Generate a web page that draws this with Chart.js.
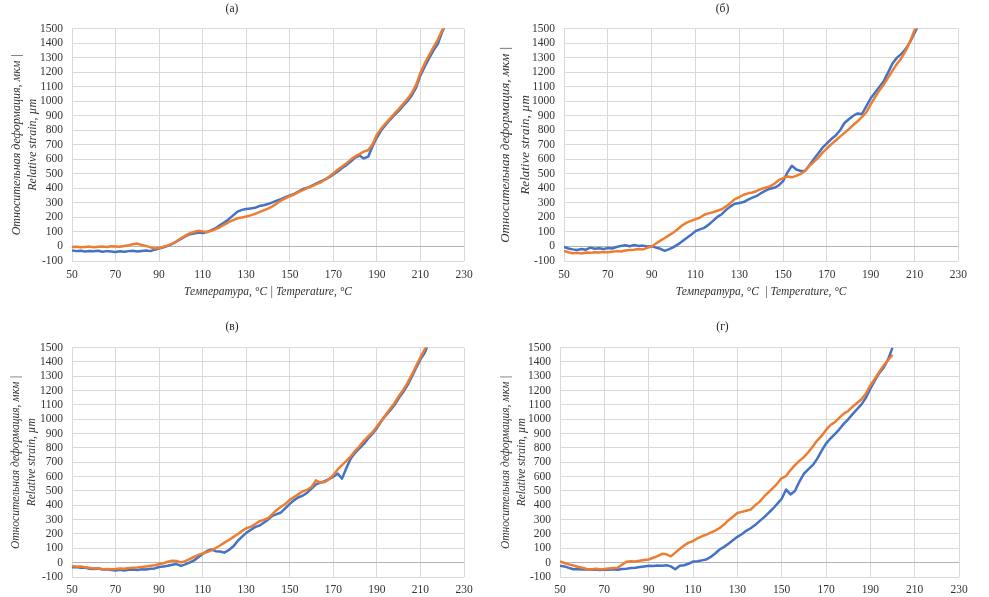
<!DOCTYPE html>
<html>
<head>
<meta charset="utf-8">
<script src="https://cdn.jsdelivr.net/npm/chart.js@4.4.1/dist/chart.umd.min.js"></script>
<style>
body{margin:0;background:#fff;}
.panel{position:absolute;}
</style>
</head>
<body>
<div class="panel" style="left:0;top:0"><canvas id="chA" width="486" height="300"></canvas></div>
<div class="panel" style="left:486px;top:0"><canvas id="chB" width="488" height="300"></canvas></div>
<div class="panel" style="left:0;top:300px"><canvas id="chC" width="486" height="297"></canvas></div>
<div class="panel" style="left:486px;top:300px"><canvas id="chD" width="488" height="297"></canvas></div>
<script>
"use strict";
// temperature, °C  /  relative strain, µm
var tempA = [50,52,54,56,58,60,62,64,66,68,70,72,74,76,78,80,82,84,86,88,90,92,94,96,98,100,102,104,106,108,110,112,114,116,118,120,122,124,126,128,130,132,134,136,138,140,142,144,146,148,150,152,154,156,158,160,162,164,166,168,170,172,174,176,178,180,182,184,186,188,190,192,194,196,198,200,202,204,206,208,210,212,214,216,218,220,222];
var blueA = [-28,-32,-30,-35,-31,-33,-30,-36,-32,-34,
    -38,-33,-36,-32,-30,-34,-31,-28,-32,-22,
    -14,-6,4,18,34,52,70,84,90,96,
    92,100,112,126,148,166,188,214,240,252,
    258,262,266,278,284,292,304,316,326,340,
    352,362,378,396,404,418,432,446,460,476,
    496,516,540,560,584,612,626,606,618,690,
    750,800,836,872,904,934,968,1000,1040,1094,
    1178,1240,1296,1350,1396,1478,1540];
var orangeA = [-4,-2,-6,-3,-1,-5,-2,0,-3,2,
    0,-2,3,8,16,20,10,4,-6,-14,
    -10,-2,8,20,36,56,74,90,100,108,
    104,100,108,120,134,150,168,182,194,200,
    206,214,224,236,248,260,276,296,316,332,
    346,358,374,388,402,414,428,440,458,480,
    504,528,550,572,598,620,636,654,662,704,
    770,812,848,880,914,946,980,1014,1056,1112,
    1196,1262,1318,1372,1424,1490,1548];

var tempB = [50,52,54,56,58,60,62,64,66,68,70,72,74,76,78,80,82,84,86,88,90,92,94,96,98,100,102,104,106,108,110,112,114,116,118,120,122,124,126,128,130,132,134,136,138,140,142,144,146,148,150,152,154,156,158,160,162,164,166,168,170,172,174,176,178,180,182,184,186,188,190,192,194,196,198,200,202,204,206,208,210,212];
var blueB = [-4,-14,-20,-24,-18,-22,-8,-16,-12,-18,
    -10,-14,-4,4,8,2,10,4,6,0,
    2,-8,-16,-30,-18,-4,14,36,58,80,
    106,118,128,150,176,204,222,252,276,294,
    300,306,322,336,348,368,384,398,404,420,
    450,510,556,530,520,520,560,600,640,680,
    710,740,764,800,850,876,900,916,912,966,
    1020,1060,1100,1140,1200,1262,1300,1326,1360,1410,
    1470,1530];
var orangeB = [-30,-40,-46,-44,-48,-42,-44,-40,-42,-38,
    -40,-36,-32,-34,-28,-24,-22,-18,-20,-10,
    0,20,40,58,78,96,120,146,164,176,
    188,198,218,228,236,246,256,276,300,326,
    340,356,366,372,382,396,404,414,432,456,
    470,482,476,486,500,520,556,582,610,646,
    676,704,730,756,782,808,836,862,892,924,
    978,1028,1076,1116,1164,1212,1258,1296,1350,1412,
    1490,1540];

var tempC = [50,52,54,56,58,60,62,64,66,68,70,72,74,76,78,80,82,84,86,88,90,92,94,96,98,100,102,104,106,108,110,112,114,116,118,120,122,124,126,128,130,132,134,136,138,140,142,144,146,148,150,152,154,156,158,160,162,164,166,168,170,172,174,176,178,180,182,184,186,188,190,192,194,196,198,200,202,204,206,208,210,212,214];
var blueC = [-32,-30,-36,-34,-42,-44,-40,-48,-46,-52,
    -54,-50,-54,-50,-48,-52,-46,-48,-42,-40,
    -30,-26,-22,-14,-10,-22,-12,0,16,38,
    60,82,92,80,78,70,88,112,150,180,
    208,228,248,258,278,300,326,338,350,380,
    410,436,456,468,488,516,546,558,568,582,
    600,622,586,660,726,766,798,828,866,900,
    938,986,1026,1060,1098,1146,1188,1236,1296,1358,
    1418,1466,1540];
var orangeC = [-24,-28,-26,-32,-36,-40,-38,-46,-44,-46,
    -44,-40,-42,-38,-36,-34,-30,-26,-22,-18,
    -10,-4,6,14,12,2,10,24,40,54,
    64,74,86,102,120,140,158,178,198,220,
    240,250,268,288,298,310,338,368,390,410,
    438,458,478,498,508,528,574,558,562,582,
    612,650,680,710,742,780,812,850,880,910,
    950,990,1030,1072,1112,1160,1202,1252,1310,1372,
    1432,1490,1550];

var tempD = [50,52,54,56,58,60,62,64,66,68,70,72,74,76,78,80,82,84,86,88,90,92,94,96,98,100,102,104,106,108,110,112,114,116,118,120,122,124,126,128,130,132,134,136,138,140,142,144,146,148,150,152,154,156,158,160,162,164,166,168,170,172,174,176,178,180,182,184,186,188,190,192,194,196,198,200];
var blueD = [-22,-26,-36,-46,-44,-48,-46,-50,-48,-52,
    -48,-50,-46,-50,-44,-42,-38,-36,-30,-26,
    -22,-24,-20,-22,-18,-26,-46,-22,-18,-8,
    8,10,16,22,40,64,92,110,132,156,
    180,198,222,240,262,290,316,346,376,410,
    446,510,476,500,566,620,650,680,724,780,
    830,866,896,930,968,1000,1036,1070,1104,1150,
    1214,1270,1322,1360,1418,1500];
var orangeD = [8,-2,-12,-20,-28,-36,-44,-48,-42,-46,
    -44,-40,-38,-36,-14,6,10,8,14,18,
    22,34,46,62,58,44,70,96,120,140,
    150,170,184,196,210,224,242,266,296,320,
    346,354,362,370,400,424,460,490,520,552,
    590,604,646,680,710,736,770,810,852,884,
    926,960,980,1010,1040,1058,1088,1114,1140,1180,
    1236,1282,1330,1376,1412,1450];

// axis ranges / ticks
var xMin = 50, xMax = 230, xStep = 20;
var yMin = -100, yMax = 1500, yStep = 100;

var panelTitles = ['(а)', '(б)', '(в)', '(г)'];
var yTitle = ['Относительная деформация, мкм |', 'Relative strain, µm'];
var xTitleA = 'Температура, °C | Temperature, °C';
var xTitleB = 'Температура, °C  | Temperature, °C';

var BLUE = '#4472C4', ORANGE = '#ED7D31';
var GRID = '#d9d9d9', ZERO = '#b3b3b3', TXT = '#333333';
var SERIF = "'Liberation Serif', 'Times New Roman', serif";

var pairs = (xs, ys) => xs.map((x, i) => ({x: x, y: ys[i]}));

var panels = [
    {id: 'chA', title: panelTitles[0], temp: tempA, blue: blueA, orange: orangeA, xTitle: xTitleA,
     yW: 72, padR: 22, tTop: 2, tBot: 12.8, xH: 39, xPad: 7, yFont: 12, yLine: '16px', yPad: 9},
    {id: 'chB', title: panelTitles[1], temp: tempB, blue: blueB, orange: orangeB, xTitle: xTitleB,
     yW: 78, padR: 15, tTop: 2, tBot: 12.8, xH: 39, xPad: 7, yFont: 13, yLine: '20px', yPad: 10},
    {id: 'chC', title: panelTitles[2], temp: tempC, blue: blueC, orange: orangeC, xTitle: null,
     yW: 72, padR: 22, tTop: 20.4, tBot: 13.4, xH: 20, xPad: 6, yFont: 11.5, yLine: '16px', yPad: 8},
    {id: 'chD', title: panelTitles[3], temp: tempD, blue: blueD, orange: orangeD, xTitle: null,
     yW: 74, padR: 15, tTop: 20.4, tBot: 13.4, xH: 20, xPad: 6, yFont: 11.5, yLine: '16px', yPad: 12}
];

var makeChart = (p) => {
    return new Chart(document.getElementById(p.id), {
        type: 'line',
        data: {
            datasets: [
                {data: pairs(p.temp, p.orange), borderColor: ORANGE, order: 0},
                {data: pairs(p.temp, p.blue), borderColor: BLUE, order: 1}
            ]
        },
        options: {
            responsive: false,
            animation: false,
            elements: {
                line: {borderWidth: 2.5, tension: 0, fill: false, borderJoinStyle: 'round'},
                point: {radius: 0}
            },
            layout: {padding: {left: 0, right: p.padR, top: 0, bottom: 0}},
            plugins: {
                legend: {display: false},
                tooltip: {enabled: false},
                title: {
                    display: true,
                    text: p.title,
                    color: '#222',
                    font: {family: SERIF, size: 11.5, weight: 'normal'},
                    padding: {top: p.tTop, bottom: p.tBot}
                }
            },
            scales: {
                x: {
                    type: 'linear',
                    min: xMin,
                    max: xMax,
                    ticks: {stepSize: xStep, autoSkip: false, maxRotation: 0, padding: p.xPad,
                            color: TXT, font: {family: SERIF, size: 11.5},
                            callback: (v) => String(v)},
                    grid: {color: GRID, drawTicks: false},
                    border: {display: false},
                    title: {display: !!p.xTitle, text: p.xTitle || '', color: TXT,
                            font: {family: SERIF, size: 11.5, style: 'italic'},
                            padding: {top: 2, bottom: 1.4}},
                    afterFit: (s) => { s.height = p.xH; }
                },
                y: {
                    min: yMin,
                    max: yMax,
                    ticks: {stepSize: yStep, autoSkip: false, padding: 9,
                            color: TXT, font: {family: SERIF, size: 11.5},
                            callback: (v) => String(v)},
                    grid: {color: (c) => (c.tick && c.tick.value === 0) ? ZERO : GRID, drawTicks: false},
                    border: {display: false},
                    title: {display: true, text: yTitle, color: TXT,
                            font: {family: SERIF, size: p.yFont, style: 'italic', lineHeight: p.yLine},
                            padding: {top: p.yPad, bottom: 0}},
                    afterFit: (s) => { s.width = p.yW; }
                }
            }
        }
    });
};

panels.forEach((p) => makeChart(p));
</script>
</body>
</html>
